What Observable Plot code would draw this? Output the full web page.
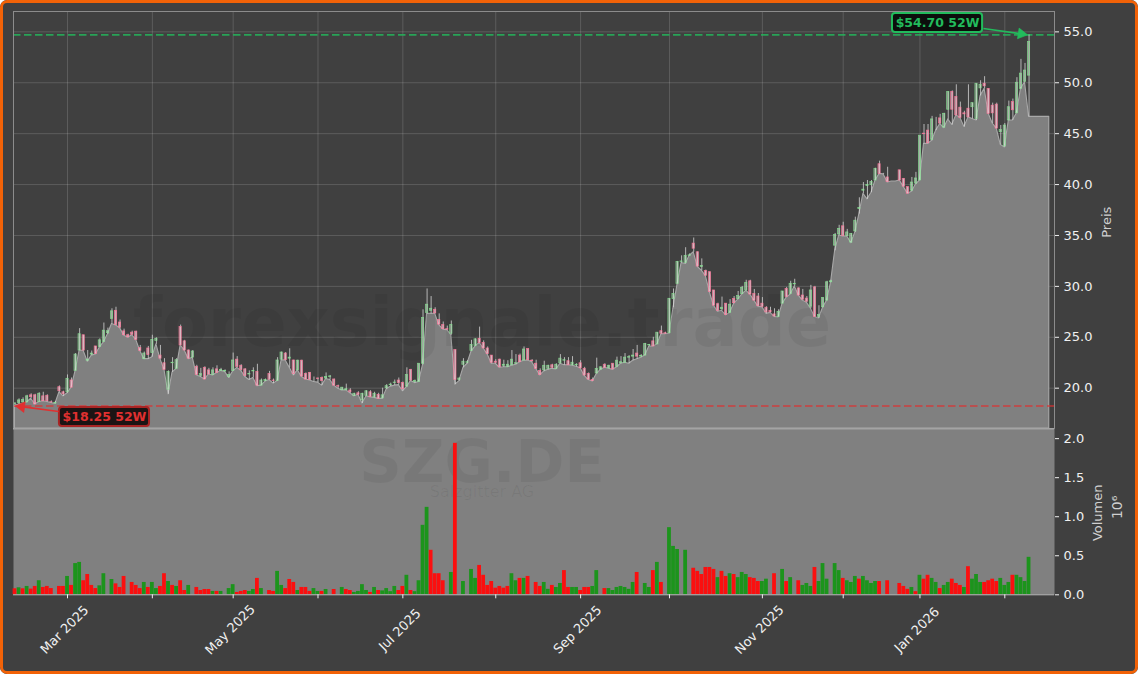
<!DOCTYPE html>
<html><head><meta charset="utf-8">
<script src="https://cdn.jsdelivr.net/npm/d3@7"></script>
<script src="https://cdn.jsdelivr.net/npm/@observablehq/plot@0.6"></script>
<style>
html,body{margin:0;padding:0;background:#fff}
#chart{position:relative;width:1138px;height:674px;background:#404040;overflow:hidden;border-radius:7px}
#chart svg{position:absolute;left:0;background:transparent}
#edge{position:absolute;inset:0;border:3px solid #f26207;border-radius:7px;box-sizing:border-box;pointer-events:none}
</style></head><body>
<div id="chart"><div id="edge"></div></div>
<script>
const opens=[18.45,18.55,18.6,18.6,19.3,19.3,18.65,19.2,19.25,18.62,
18.5,20.1,19.6,19.6,20.76,21.7,23.7,25.2,22.7,23.3,
24.1,24.05,24.55,25.4,26.8,27.6,26.45,25.58,25.2,25.45,
25.55,23.95,22.85,23.9,23.45,24.65,23.2,22.45,19.85,22.45,
21.9,26.0,24.6,23.7,23.0,22.1,21.2,22.0,21.75,21.3,
21.85,21.7,21.65,21.1,21.7,22.8,22.2,21.85,21.35,21.65,
21.6,20.25,20.7,21.4,20.75,20.7,22.8,23.4,22.9,22.72,
21.75,22.7,21.4,21.5,20.95,20.95,21.0,20.95,21.1,20.85,
20.2,19.8,19.8,19.78,19.25,19.5,18.8,19.25,19.6,19.1,
19.35,19.0,20.0,20.3,20.5,20.75,20.5,20.15,21.8,20.6,
20.6,22.4,27.4,27.6,27.7,26.7,26.2,25.8,25.35,23.75,
20.8,22.3,22.5,23.65,24.15,24.85,24.45,23.9,23.2,22.6,
22.8,22.2,22.1,22.25,22.4,23.2,22.72,23.85,22.7,22.4,
21.7,21.75,21.9,22.25,21.9,22.45,22.7,22.65,22.25,22.25,
22.45,21.9,21.4,20.8,21.45,21.8,22.3,21.95,22.4,22.1,
22.45,22.5,23.0,23.1,23.4,23.1,23.2,24.2,24.6,24.3,
25.6,25.4,25.4,28.75,30.25,32.4,32.3,33.0,34.2,33.35,
31.9,31.5,31.4,29.6,28.25,27.75,28.3,27.4,28.77,28.75,
29.25,29.6,30.5,29.25,29.0,28.3,27.9,27.6,27.25,27.0,
28.3,29.75,29.25,30.2,29.8,29.1,28.8,28.0,29.9,27.0,
27.95,28.6,30.4,34.0,35.1,35.9,34.95,34.3,35.4,37.6,
39.4,39.85,39.95,40.4,42.0,41.05,40.7,40.3,40.3,41.4,
40.55,39.75,39.4,40.1,40.4,45.0,45.3,44.4,46.1,46.5,
45.6,47.35,49.1,48.6,47.55,47.0,47.45,47.6,46.45,49.45,
49.9,49.4,47.75,47.85,45.15,43.75,46.3,48.1,47.0,49.4,
50.1,50.7];
const highs=[18.55,18.95,19.05,19.3,19.45,19.4,19.55,19.6,19.35,18.75,
18.7,20.22,19.7,21.3,21.0,23.4,25.85,25.2,23.7,23.65,
24.1,24.85,26.4,25.9,27.8,27.95,26.7,25.8,25.3,25.6,
25.6,24.2,23.55,24.1,25.2,24.95,24.2,22.9,21.7,23.0,
22.9,26.2,24.7,23.75,23.7,22.25,21.95,22.1,21.95,22.0,
22.2,21.95,21.8,21.6,23.45,23.1,22.3,21.9,21.7,22.0,
22.35,20.9,20.9,21.65,20.9,23.0,23.55,23.5,23.87,22.75,
22.75,22.75,21.5,21.55,21.1,21.0,21.1,21.5,21.25,20.9,
20.3,20.05,20.4,19.95,19.5,19.65,19.5,19.75,19.75,19.6,
19.5,20.0,20.35,20.5,20.8,21.0,20.6,22.0,21.85,20.8,
22.4,27.7,29.75,29.0,27.9,27.3,26.5,26.1,26.6,23.75,
21.0,22.9,22.7,24.7,24.85,26.0,24.65,24.05,23.2,22.8,
22.85,22.75,22.7,23.7,23.3,23.35,24.05,23.85,22.8,22.75,
21.9,22.65,22.25,22.35,22.4,23.3,23.0,23.0,23.1,22.4,
22.7,22.05,21.5,21.0,22.95,22.1,22.4,22.25,22.4,23.05,
23.1,23.4,23.2,23.8,24.2,23.3,24.4,24.3,25.0,25.45,
26.1,25.5,28.8,29.75,32.45,33.0,33.8,33.2,34.75,33.4,
32.7,31.6,31.4,29.6,28.35,28.95,28.3,28.7,29.0,29.5,
30.0,30.6,30.6,29.7,29.3,28.9,28.0,27.95,27.8,27.7,
29.5,29.9,30.5,30.7,29.85,29.7,29.0,30.1,30.0,28.1,
28.9,30.5,30.6,35.2,36.0,36.3,35.6,35.2,36.8,38.7,
40.2,40.4,40.4,41.6,42.3,41.1,41.7,40.3,40.3,41.4,
40.6,39.75,40.7,41.2,44.8,45.9,45.9,46.7,46.6,46.9,
47.0,49.1,49.2,49.8,48.1,47.2,49.8,48.0,49.9,50.2,
50.6,49.4,48.0,48.0,45.8,46.0,48.2,48.4,50.5,52.3,
51.9,54.7];
const lows=[18.25,18.4,18.45,18.6,18.96,18.4,18.65,18.72,18.65,18.55,
18.45,19.6,19.2,19.5,20.05,21.7,23.7,23.65,22.6,23.2,
23.3,24.0,24.5,25.3,26.3,26.15,25.9,25.18,24.95,25.2,
24.75,23.65,22.85,22.85,23.05,24.3,22.85,21.8,19.4,21.55,
21.9,24.2,23.7,22.85,23.0,21.25,21.1,20.85,21.35,21.25,
21.5,21.7,21.6,21.0,21.65,22.0,21.7,21.1,20.8,21.0,
20.2,20.25,20.65,20.8,20.45,20.7,22.75,22.72,22.0,21.25,
21.75,21.1,20.85,20.76,20.6,20.55,20.25,20.9,20.8,20.25,
19.95,19.78,19.78,19.5,19.2,19.35,18.5,19.2,19.1,19.05,
18.95,18.95,19.9,20.15,20.25,20.3,19.7,20.1,20.7,20.5,
20.6,22.3,27.3,27.3,27.3,26.2,25.75,25.7,25.2,20.35,
20.7,22.0,22.4,23.6,24.1,24.45,23.9,23.3,22.4,22.4,
22.0,22.05,22.05,22.2,22.3,22.55,22.7,22.72,22.55,21.9,
21.25,21.65,21.8,21.9,21.85,22.4,22.25,22.25,22.2,22.1,
21.95,21.2,20.8,20.65,21.4,21.8,22.0,21.9,21.8,22.05,
22.4,22.5,22.4,22.7,22.85,23.0,23.2,24.1,24.1,24.3,
25.3,25.3,25.35,27.9,30.2,32.3,32.2,33.0,33.35,31.9,
31.55,31.0,29.4,28.1,27.5,27.6,27.15,27.4,28.3,28.7,
29.2,29.55,29.2,28.6,28.0,27.95,27.3,27.4,27.0,26.95,
28.3,28.9,29.2,30.0,29.1,28.6,28.4,27.8,27.0,26.85,
27.9,28.6,30.4,33.5,35.0,34.9,34.9,34.25,35.3,37.1,
39.1,38.55,39.2,40.4,41.05,41.0,40.2,40.3,40.3,40.4,
39.75,39.1,39.3,40.0,40.4,44.0,44.0,44.3,45.3,45.95,
45.55,46.4,45.85,46.8,46.55,45.65,46.6,46.45,46.3,48.7,
49.4,46.95,46.0,45.5,43.9,43.65,46.3,46.3,47.0,49.4,
50.05,46.65];
const closes=[18.5,18.8,18.85,19.2,19.12,18.4,19.45,18.72,18.72,18.6,
18.55,19.7,19.4,20.92,20.05,23.3,25.3,23.7,22.8,23.4,
23.35,24.7,25.65,25.6,27.55,26.2,25.95,25.2,25.0,25.25,
24.75,23.65,23.4,23.25,24.75,24.85,22.9,21.8,21.6,22.5,
22.75,24.2,23.7,22.9,23.6,21.3,21.4,20.85,21.35,21.75,
21.5,21.8,21.7,21.3,22.72,22.1,21.8,21.2,21.4,21.7,
20.25,20.75,20.8,20.85,20.7,22.72,23.5,22.75,23.0,21.4,
22.7,21.15,20.85,20.8,20.95,20.9,20.7,21.1,21.15,20.25,
20.15,20.05,19.9,19.6,19.45,19.35,19.45,19.7,19.12,19.45,
18.95,19.3,20.2,20.35,20.55,20.5,19.9,21.3,20.75,20.7,
22.4,26.9,28.2,27.8,27.35,26.25,25.8,25.75,26.2,20.8,
20.95,22.6,22.55,24.25,24.8,24.45,23.9,23.35,22.5,22.5,
22.05,22.3,22.3,22.8,22.45,22.55,23.8,22.75,22.65,21.9,
21.3,22.2,22.2,22.0,22.3,22.9,22.75,22.25,22.5,22.3,
21.95,21.25,20.85,20.7,21.9,22.05,22.0,22.2,21.85,22.7,
22.55,23.0,23.05,23.2,23.1,23.15,24.35,24.25,24.1,25.45,
25.35,25.35,28.78,29.25,32.4,32.45,33.0,33.05,33.7,31.95,
32.0,31.05,29.45,28.1,27.6,27.9,27.2,28.2,28.35,29.05,
29.85,30.35,29.2,28.6,28.05,28.0,27.45,27.45,27.05,27.5,
29.5,28.95,30.25,30.25,29.1,28.7,28.5,29.6,27.0,27.2,
28.85,30.4,30.5,35.05,35.65,34.95,35.3,35.15,36.45,37.7,
39.5,39.95,40.25,41.55,41.05,41.05,40.25,40.3,40.3,40.4,
39.8,39.1,40.2,40.6,44.8,44.95,44.05,46.4,46.1,46.0,
46.95,49.1,47.35,46.8,46.55,46.9,46.6,48.0,49.9,49.8,
49.65,46.95,47.0,45.5,45.35,45.8,47.6,47.3,50.0,50.9,
51.2,54.0];
const lowTail=[46.65,46.65,46.65,46.65,46.65];
const volume=[.077,.09,.077,.107,.073,.107,.18,.094,.107,.08,
0,.107,.107,.235,.12,.40,.415,.18,.26,.12,
.08,.115,.27,0,.196,.14,.094,.235,0,.158,
.12,.08,.158,.094,.158,.08,.107,.27,.17,.12,
.107,.18,.055,.12,0,.094,.055,.068,.068,.043,
.043,.043,0,.08,.13,.03,.043,.055,.043,.068,
.21,.08,0,.055,.043,.30,.12,.08,.196,.158,
.055,.094,.094,.043,.08,.043,.043,.068,0,.068,
0,.094,.068,.055,.03,.043,.13,.055,.03,.094,
.055,.05,.08,.04,.107,.055,.107,.25,.055,.04,
.18,.89,1.12,.57,.27,.27,.18,0,.286,1.94,
0,.17,0,.325,.21,.376,.25,.12,.17,.085,
.107,.085,.107,.27,.18,.21,.21,.235,0,.158,
.107,.158,.07,.12,.094,.145,.31,.094,.094,.094,
.055,.094,.094,.107,.31,0,.08,.08,.055,.094,
.107,.094,.07,.158,.286,0,.145,.094,.31,.415,
.158,0,.86,.62,.58,0,.57,0,.34,.30,
.26,.35,.35,.325,.22,.30,.235,.27,.26,.22,
.286,.26,.22,.21,.17,.17,.2,0,.27,0,
.325,.17,.22,0,.18,.12,.145,.107,.35,.17,
.40,.2,0,.40,.31,.21,.18,.158,.235,.2,
.235,.18,.145,.17,.17,0,.18,0,0,.145,
.107,.07,.094,.04,.25,.2,.25,.21,.158,.08,
.12,.158,.2,.145,.12,.094,.36,.2,.26,.158,
.158,.18,.2,.17,.21,.12,.158,.25,.25,.22,
.17,.48];
const volumeSide=("rgrgrrgrrr"+"rrrgrggrrr"+"rggggrrrrr"+"rrgrggrrgr"+"grrggrrrrg"+
"rggggrrrgg"+"rggrrggrrr"+"grrrggrggr"+"ggrrggggrg"+"rggggrrgrg"+
"gggrrrrggr"+"gggggrrrrr"+"rrrggrgrrr"+"rggrggrrgg"+"rrrgggrggg"+
"ggggrrggrg"+"rgggggggrr"+"rrrrgrrgrg"+"ggrrrgggrg"+"grggrgggrg"+
"gggggrgggr"+"ggggrgrggr"+"rrgrgrrggr"+"ggrrrgrggg"+"rrrrgggrgg"+"gg").split("");

const tickIndex=[13,34,54,75,96,119,140,162,185,205,224,245];
const tickLabels=["Mar 2025","","May 2025","","Jul 2025","","Sep 2025","","Nov 2025","","Jan 2026",""];
const priceTicks=[20,25,30,35,40,45,50,55];
const volumeTicks=[0,.5,1,1.5,2];

const yearHigh=54.70, yearLow=18.25;
const highBox={x1:217.2,x2:239.5,y1:54.94,y2:56.8,tx:228.35,ty:55.86,text:"$54.70 52W",from:[239.7,55.33],to:[249.1,54.8],turn:98.8};
const lowBox={x1:11,x2:33.3,y1:16.24,y2:18.1,tx:22.15,ty:17.17,text:"$18.25 52W",from:[10.8,17.71],to:[1.6,18.18],turn:-82.4};

const candles=opens.map((o,i)=>({i,o,h:highs[i],l:lows[i],c:closes[i]}));
const up=candles.filter(d=>d.c>=d.o), down=candles.filter(d=>d.c<d.o);
const areaPoints=[...lows,...lowTail].map((v,i)=>({i,v}));
const bars=volume.map((v,i)=>({i,v,side:volumeSide[i]})).filter(d=>d.v>0);

const font="'DejaVu Sans', sans-serif", ink="#f0f0f0";
const xDomain=[-0.37,257.3], priceDomain=[16.04,57.0], volumeDomain=[0,2.13];
const GREEN="#22bb5c", RED="#e03030", halfBody=.27;
const ghost={fill:"#000",fillOpacity:.06,fontFamily:font};
const pointer=(box,color)=>[
  Plot.link([box],{x1:d=>d.from[0],y1:d=>d.from[1],x2:d=>d.to[0],y2:d=>d.to[1],stroke:color,strokeWidth:1.7}),
  Plot.dot([box],{x:d=>d.to[0],y:d=>d.to[1],symbol:"triangle",r:4,rotate:"turn",fill:color,stroke:color,strokeWidth:.6})
];

const pricePlot=Plot.plot({
  width:1138,height:430,marginLeft:13,marginRight:84,marginTop:11,marginBottom:2,
  style:{fontFamily:font,color:ink,background:"transparent"},
  x:{domain:xDomain,axis:null},
  y:{domain:priceDomain,axis:null},
  marks:[
    Plot.gridX(tickIndex,{stroke:"#fff",strokeOpacity:.15,strokeWidth:1}),
    Plot.gridY(priceTicks,{stroke:"#fff",strokeOpacity:.15,strokeWidth:1}),
    Plot.areaY(areaPoints,{x:"i",y1:priceDomain[0],y2:"v",fill:"#808080",stroke:"#a8a8a8",strokeWidth:1.1}),
    Plot.text(["forexsignale.trade"],{...ghost,frameAnchor:"middle",dx:-52,dy:105,fontSize:67,fontWeight:"bold"}),
    Plot.ruleY([yearHigh],{stroke:GREEN,strokeOpacity:.8,strokeWidth:1.7,strokeDasharray:"7.5,3.5"}),
    Plot.ruleY([yearLow],{stroke:RED,strokeOpacity:.8,strokeWidth:1.7,strokeDasharray:"7.5,3.5"}),
    Plot.ruleX(candles,{x:"i",y1:"l",y2:"h",stroke:"#d4d4d4",strokeWidth:.8}),
    Plot.rect(up,{x1:d=>d.i-halfBody,x2:d=>d.i+halfBody,y1:"o",y2:"c",fill:"#dff0df",fillOpacity:.4,stroke:"#86e292",strokeOpacity:.85,strokeWidth:.75}),
    Plot.rect(down,{x1:d=>d.i-halfBody,x2:d=>d.i+halfBody,y1:"o",y2:"c",fill:"#ffdbe3",fillOpacity:.55,stroke:"#ff7499",strokeOpacity:.85,strokeWidth:.75}),
    Plot.frame({stroke:"#8c8c8c",strokeWidth:1}),
    Plot.axisY(priceTicks,{anchor:"right",tickSize:4,tickPadding:5,fontSize:13,label:null,tickFormat:d3.format(".1f"),stroke:ink}),
    Plot.text(["Preis"],{frameAnchor:"right",textAnchor:"middle",y:[36.3],dx:52,rotate:-90,fontSize:13,fill:"#d0d0d0"}),
    Plot.rect([highBox],{x1:"x1",x2:"x2",y1:"y1",y2:"y2",fill:"#0c0f0c",stroke:GREEN,strokeWidth:2,rx:3}),
    Plot.text([highBox],{x:"tx",y:"ty",text:"text",fill:GREEN,fontSize:12.5,fontWeight:"bold"}),
    ...pointer(highBox,GREEN),
    Plot.rect([lowBox],{x1:"x1",x2:"x2",y1:"y1",y2:"y2",fill:"#1c1414",stroke:"#a82424",strokeWidth:2,rx:3}),
    Plot.text([lowBox],{x:"tx",y:"ty",text:"text",fill:RED,fontSize:12.5,fontWeight:"bold"}),
    ...pointer(lowBox,RED)
  ]
});
pricePlot.style.top="0px";

const volumePlot=Plot.plot({
  width:1138,height:246,marginLeft:13,marginRight:84,marginTop:0,marginBottom:79.7,
  style:{fontFamily:font,color:ink,background:"transparent"},
  x:{domain:xDomain,axis:null},
  y:{domain:volumeDomain,axis:null},
  marks:[
    Plot.frame({fill:"#808080"}),
    Plot.text(["SZG.DE"],{...ghost,frameAnchor:"middle",dx:-52,dy:-49,fontSize:59,fontWeight:"bold"}),
    Plot.text(["Salzgitter AG"],{...ghost,frameAnchor:"middle",dx:-52,dy:-20,fontSize:16}),
    Plot.rect(bars.filter(d=>d.side==="g"),{x1:d=>d.i-.47,x2:d=>d.i+.47,y1:0,y2:"v",fill:"#1c941c"}),
    Plot.rect(bars.filter(d=>d.side==="r"),{x1:d=>d.i-.47,x2:d=>d.i+.47,y1:0,y2:"v",fill:"#fb0f0f"}),
    Plot.ruleY([0],{stroke:"#b4b4b4",strokeWidth:1}),
    Plot.ruleY([volumeDomain[1]],{stroke:"#a4a4a4",strokeWidth:2}),
    Plot.axisX(tickIndex,{anchor:"bottom",tickSize:4,tickFormat:()=>"",label:null,stroke:ink}),
    Plot.text(tickIndex.map((t,k)=>({t,s:tickLabels[k]})).filter(d=>d.s),{x:"t",text:"s",frameAnchor:"bottom",dy:38,rotate:-45,fontSize:13,fill:ink}),
    Plot.axisY(volumeTicks,{anchor:"right",tickSize:4,tickPadding:5,fontSize:13,label:null,tickFormat:d3.format(".1f"),stroke:ink}),
    Plot.text(["Volumen"],{frameAnchor:"right",textAnchor:"middle",y:[1.05],dx:43,rotate:-90,fontSize:13,fill:"#d0d0d0"}),
    Plot.text(["10⁶"],{frameAnchor:"right",textAnchor:"middle",y:[1.12],dx:63,rotate:-90,fontSize:14,fill:"#d0d0d0"})
  ]
});
volumePlot.style.top="428px";

const host=document.getElementById("chart");
host.insertBefore(volumePlot,host.firstChild);
host.insertBefore(pricePlot,volumePlot);
</script>
</body></html>
